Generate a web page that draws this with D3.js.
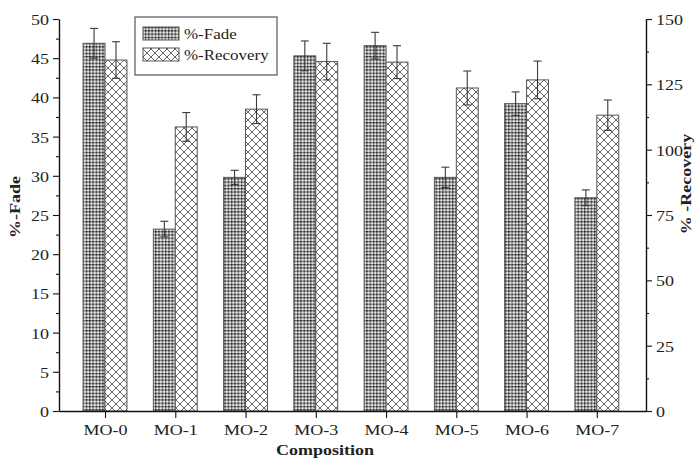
<!DOCTYPE html>
<html>
<head>
<meta charset="utf-8">
<script src="https://cdn.jsdelivr.net/npm/d3@7/dist/d3.min.js"></script>
<style>
  html, body { margin: 0; padding: 0; background: #fff; }
  svg { display: block; }
  text { font-family: "Liberation Serif", "Times New Roman", serif; fill: #222; }
</style>
</head>
<body>
<svg id="chart" width="696" height="459"></svg>
<script>
// Fade and recovery measurements per composition
const categories = ["MO-0", "MO-1", "MO-2", "MO-3", "MO-4", "MO-5", "MO-6", "MO-7"];
const fade       = [46.9, 23.2, 29.8, 45.3, 46.6, 29.8, 39.2, 27.2];
const fadeErr    = [1.9, 1.0, 0.9, 1.9, 1.7, 1.3, 1.5, 1.0];
const recovery   = [134.3, 108.7, 115.5, 133.7, 133.5, 123.6, 126.7, 113.2];
const recErr     = [7.0, 5.5, 5.5, 7.0, 6.3, 6.5, 7.2, 5.8];
const fadeTicks  = [0, 5, 10, 15, 20, 25, 30, 35, 40, 45, 50];
const recTicks   = [0, 25, 50, 75, 100, 125, 150];

const svg = d3.select("#chart");
const SX = 1.2; // horizontal stretch of the lettering

const plotL = 59, plotR = 646, plotT = 19, plotB = 411;

const x = d3.scaleLinear().domain([-0.655, 7.7]).range([plotL, plotR]);
const yF = d3.scaleLinear().domain([0, 50]).range([plotB, plotT]);
const yR = d3.scaleLinear().domain([0, 150]).range([plotB, plotT]);
const barW = (x(1) - x(0)) * 0.312;

// Fill patterns: dotted mesh for fade, cross-hatch for recovery
const defs = svg.append("defs");
const pF = defs.append("pattern").attr("id", "pFade")
  .attr("patternUnits", "userSpaceOnUse").attr("width", 3.3).attr("height", 3.3);
pF.append("rect").attr("width", 3.3).attr("height", 3.3).attr("fill", "#e6e6e6");
pF.append("path").attr("d", "M0,0.6H3.3M0.6,0V3.3").attr("stroke", "#7a7a7a").attr("stroke-width", 1.1);
pF.append("circle").attr("cx", 0.6).attr("cy", 0.6).attr("r", 0.9).attr("fill", "#1e1e1e");

const pR = defs.append("pattern").attr("id", "pRec")
  .attr("patternUnits", "userSpaceOnUse").attr("width", 8).attr("height", 8);
pR.append("rect").attr("width", 8).attr("height", 8).attr("fill", "#fff");
pR.append("path").attr("d", "M0,0L8,8M8,0L0,8M-1,7L1,9M7,-1L9,1M-1,1L1,-1M7,9L9,7")
  .attr("stroke", "#666").attr("stroke-width", 1);

function stretch(sel) {
  sel.each(function () {
    const t = d3.select(this);
    const tx = +t.attr("x") || 0;
    t.attr("x", tx / SX).attr("transform", `scale(${SX},1)`);
  });
}

// Bars
const gBars = svg.append("g");
categories.forEach((c, i) => {
  const cx = x(i);
  gBars.append("rect")
    .attr("x", cx - barW).attr("y", yF(fade[i]))
    .attr("width", barW).attr("height", yF(0) - yF(fade[i]))
    .attr("fill", "url(#pFade)").attr("stroke", "#555").attr("stroke-width", 1);
  gBars.append("rect")
    .attr("x", cx).attr("y", yR(recovery[i]))
    .attr("width", barW).attr("height", yR(0) - yR(recovery[i]))
    .attr("fill", "url(#pRec)").attr("stroke", "#555").attr("stroke-width", 1);
});

// Error bars
function errBar(cx, yTop, yBot) {
  const g = svg.append("g").attr("stroke", "#3a3a3a").attr("stroke-width", 1.1);
  g.append("line").attr("x1", cx).attr("x2", cx).attr("y1", yTop).attr("y2", yBot);
  g.append("line").attr("x1", cx - 4).attr("x2", cx + 4).attr("y1", yTop).attr("y2", yTop);
  g.append("line").attr("x1", cx - 4).attr("x2", cx + 4).attr("y1", yBot).attr("y2", yBot);
}
categories.forEach((c, i) => {
  errBar(x(i) - barW / 2, yF(fade[i] + fadeErr[i]), yF(fade[i] - fadeErr[i]));
  errBar(x(i) + barW / 2, yR(recovery[i] + recErr[i]), yR(recovery[i] - recErr[i]));
});

// Axes
const axisFont = 15;
const gL = svg.append("g").attr("transform", `translate(${plotL},0)`)
  .call(d3.axisLeft(yF).tickValues(fadeTicks).tickSize(6).tickPadding(4).tickSizeOuter(0));
gL.append("g").call(d3.axisLeft(yF).tickValues(d3.range(2.5, 50, 5)).tickSize(3).tickFormat(""))
  .select(".domain").remove();

const gR = svg.append("g").attr("transform", `translate(${plotR},0)`)
  .call(d3.axisRight(yR).tickValues(recTicks).tickSize(6).tickPadding(4).tickSizeOuter(0));
gR.append("g").call(d3.axisRight(yR).tickValues(d3.range(12.5, 150, 25)).tickSize(3).tickFormat(""))
  .select(".domain").remove();

const gB = svg.append("g").attr("transform", `translate(0,${plotB})`)
  .call(d3.axisBottom(x).tickValues(d3.range(categories.length)).tickSize(7).tickPadding(6)
    .tickSizeOuter(0).tickFormat(i => categories[i]));

[gL, gR, gB].forEach(g => {
  g.selectAll(".domain").attr("stroke", "#111").attr("stroke-width", 1.4);
  g.selectAll(".tick line").attr("stroke", "#111").attr("stroke-width", 1.1);
  g.selectAll("text").attr("font-size", axisFont).attr("font-family", "Liberation Serif").attr("fill", "#222");
  stretch(g.selectAll(".tick text"));
});
gL.selectAll(".tick text").attr("dy", "0.36em");
gR.selectAll(".tick text").attr("dy", "0.36em");

// Axis titles
svg.append("text")
  .attr("transform", `translate(20,207) rotate(-90) scale(${SX},1)`)
  .attr("text-anchor", "middle").attr("font-size", 15).attr("font-weight", "bold")
  .text("%-Fade");
svg.append("text")
  .attr("transform", `translate(691,184) rotate(-90) scale(${SX},1)`)
  .attr("text-anchor", "middle").attr("font-size", 15).attr("font-weight", "bold")
  .text("% -Recovery");
svg.append("text")
  .attr("transform", `translate(325,455) scale(${SX},1)`)
  .attr("text-anchor", "middle").attr("font-size", 15).attr("font-weight", "bold")
  .text("Composition");

// Legend
const LSX = 1.13;
const lg = svg.append("g").attr("transform", "translate(135,17)");
lg.append("rect").attr("width", 142).attr("height", 58)
  .attr("fill", "#fff").attr("stroke", "#555").attr("stroke-width", 1.2);
const items = [["%-Fade", "url(#pFade)"], ["%-Recovery", "url(#pRec)"]];
items.forEach(([label, fill], k) => {
  const yy = 10 + k * 21;
  lg.append("rect").attr("x", 8).attr("y", yy).attr("width", 36).attr("height", 13)
    .attr("fill", fill).attr("stroke", "#555").attr("stroke-width", 1);
  lg.append("text").attr("transform", `translate(49,${yy + 12}) scale(${LSX},1)`)
    .attr("font-size", 15).text(label);
});
</script>
</body>
</html>
